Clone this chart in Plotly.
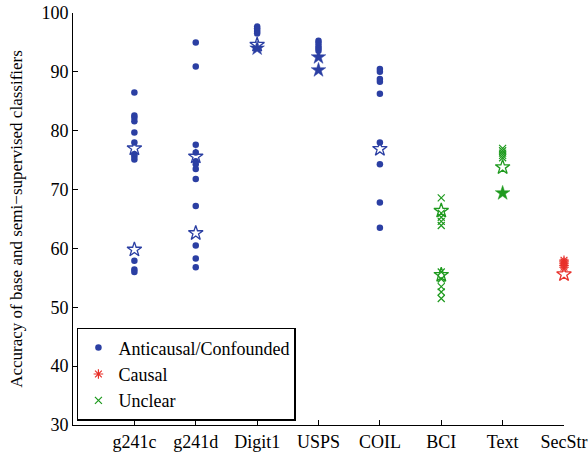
import plotly.graph_objects as go

categories = ["g241c", "g241d", "Digit1", "USPS", "COIL", "BCI", "Text", "SecStr"]

# Anticausal/Confounded (blue dots)
anti_dots = {
    "g241c": [86.5, 82.6, 82.2, 81.6, 79.7, 78.0, 76.0, 75.6, 75.1, 57.9, 56.4, 56.0],
    "g241d": [95.0, 90.9, 77.6, 76.3, 74.8, 74.3, 73.5, 71.8, 67.2, 60.5, 58.3, 56.8],
    "Digit1": [97.7, 97.4, 97.1, 96.8, 96.5],
    "USPS": [95.3, 94.9, 94.4, 94.0, 93.6],
    "COIL": [90.5, 90.0, 88.8, 88.3, 86.3, 78.0, 74.3, 67.8, 63.5],
}
anti_open_stars = {
    "g241c": [77.0, 59.8],
    "g241d": [75.6, 62.6],
    "Digit1": [94.6],
    "COIL": [76.9],
}
anti_filled_stars = {
    "Digit1": [94.0],
    "USPS": [92.5, 90.3],
}

# Causal (red asterisks)
causal_pts = {"SecStr": [58.0, 57.7, 57.4, 57.1, 56.8]}
causal_open_stars = {"SecStr": [55.6]}

# Unclear (green x)
unclear_pts = {
    "BCI": [68.6, 66.0, 65.3, 64.6, 63.9, 56.0, 54.8, 53.5, 52.6, 51.5],
    "Text": [77.0, 76.6, 76.2, 75.8, 75.4],
}
unclear_open_stars = {"BCI": [66.4, 55.5], "Text": [73.8]}
unclear_filled_stars = {"Text": [69.4]}

yticks = [30, 40, 50, 60, 70, 80, 90, 100]

BLUE = "#2B3FA3"
RED = "#E8302A"
GREEN = "#1E9A1E"
FONT = "Liberation Serif"


def flatten(d):
    xs, ys = [], []
    for k, vals in d.items():
        for v in vals:
            xs.append(k)
            ys.append(v)
    return xs, ys


fig = go.Figure()

x, y = flatten(anti_dots)
fig.add_trace(go.Scatter(x=x, y=y, mode="markers", name="Anticausal/Confounded",
                         marker=dict(symbol="circle", size=6.5, color=BLUE, line=dict(width=0)),
                         cliponaxis=False))
x, y = flatten(causal_pts)
fig.add_trace(go.Scatter(x=x, y=y, mode="markers", name="Causal",
                         marker=dict(symbol="asterisk-open", size=8, color=RED,
                                     line=dict(color=RED, width=1.2)),
                         cliponaxis=False))
x, y = flatten(unclear_pts)
fig.add_trace(go.Scatter(x=x, y=y, mode="markers", name="Unclear",
                         marker=dict(symbol="x-thin-open", size=7, color=GREEN,
                                     line=dict(color=GREEN, width=1.2)),
                         cliponaxis=False))

for d, col in [(anti_open_stars, BLUE), (causal_open_stars, RED), (unclear_open_stars, GREEN)]:
    x, y = flatten(d)
    fig.add_trace(go.Scatter(x=x, y=y, mode="markers", showlegend=False,
                             marker=dict(symbol="star-open", size=11, color=col,
                                         line=dict(color=col, width=1.3)),
                             cliponaxis=False))
for d, col in [(anti_filled_stars, BLUE), (unclear_filled_stars, GREEN)]:
    x, y = flatten(d)
    fig.add_trace(go.Scatter(x=x, y=y, mode="markers", showlegend=False,
                             marker=dict(symbol="star", size=11, color=col,
                                         line=dict(color=col, width=0.5)),
                             cliponaxis=False))

fig.update_layout(
    width=588, height=453,
    margin=dict(l=73, r=24, t=13, b=28, autoexpand=False),
    paper_bgcolor="white", plot_bgcolor="white",
    font=dict(family=FONT, size=18, color="black"),
    showlegend=True,
    legend=dict(x=0.008, y=0.01, xanchor="left", yanchor="bottom",
                bordercolor="black", borderwidth=1.5, bgcolor="white",
                font=dict(family=FONT, size=18), tracegroupgap=0),
    xaxis=dict(type="category", categoryorder="array", categoryarray=categories,
               range=[-1, 7], showgrid=False, zeroline=False, automargin=False,
               showline=True, linecolor="black", linewidth=1,
               ticks="inside", ticklen=5, tickcolor="black",
               tickfont=dict(family=FONT, size=18)),
    yaxis=dict(range=[30, 100], tickvals=yticks, showgrid=False, zeroline=False,
               automargin=False,
               showline=True, linecolor="black", linewidth=1,
               ticks="inside", ticklen=5, tickcolor="black",
               tickfont=dict(family=FONT, size=18),
               title=dict(text="Accuracy of base and semi\u2212supervised classifiers",
                          font=dict(family=FONT, size=17), standoff=14)),
)

fig.write_html("out.html")
